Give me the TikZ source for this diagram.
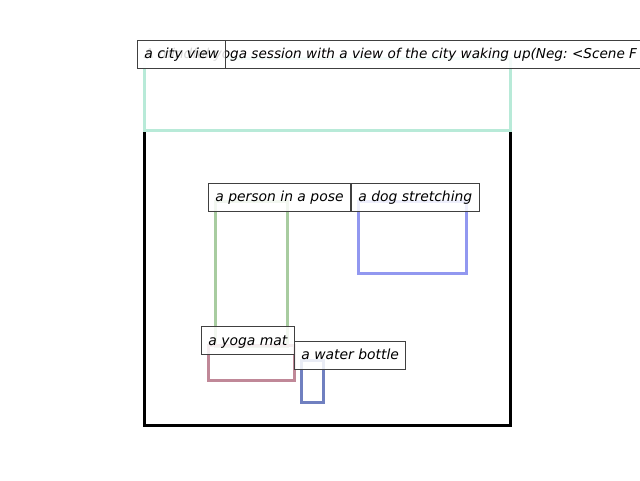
\documentclass[tikz,border=0pt]{standalone}
\usepackage{fontspec}
\setmainfont{DejaVu Sans}
\frenchspacing
\definecolor{mint}{RGB}{184,234,216}
\definecolor{persongreen}{RGB}{168,204,160}
\definecolor{dogblue}{RGB}{146,152,240}
\definecolor{matpink}{RGB}{192,136,152}
\definecolor{bottleblue}{RGB}{112,128,192}
\definecolor{lblborder}{RGB}{64,64,64}
\tikzset{
  lbl/.style={draw=lblborder, line width=1pt, fill=white, fill opacity=0.85, text opacity=1,
    font=\itshape\fontsize{13.9}{16}\selectfont, inner xsep=6.9pt, inner ysep=0pt,
    text height=13.2pt, text depth=3.3pt,
    minimum height=28pt, anchor=west},
  region/.style={line width=3pt},
}
\begin{document}
\begin{tikzpicture}[x=1pt,y=-1pt]
\useasboundingbox (0,0) rectangle (640,480);
\clip (0,0) rectangle (640,480);
% image frame
\draw[black, line width=3pt] (144,58) rectangle (510,425);
% city view region
\draw[region, mint] (144,58) rectangle (510,130);
\node[lbl, font=\itshape\fontsize{13.6}{16}\selectfont] (title) at (137,54) {A mindful yoga session with a view of the city waking up(Neg: <Scene F};
\node[lbl] (city) at (137,54) {a city view};
% person and dog
\draw[region, persongreen] (215,201) rectangle (287,346);
\draw[region, dogblue] (358,201) rectangle (466,273);
\node[lbl] (person) at (208,197) {a person in a pose};
\node[lbl] (dog) at (351,197) {a dog stretching};
% mat and bottle
\draw[region, matpink] (208,345) rectangle (294,380);
\draw[region, bottleblue] (301,360) rectangle (323,402);
\node[lbl] (mat) at (201,340.5) {a yoga mat};
\node[lbl] (bottle) at (294,355) {a water bottle};
\end{tikzpicture}
\end{document}
